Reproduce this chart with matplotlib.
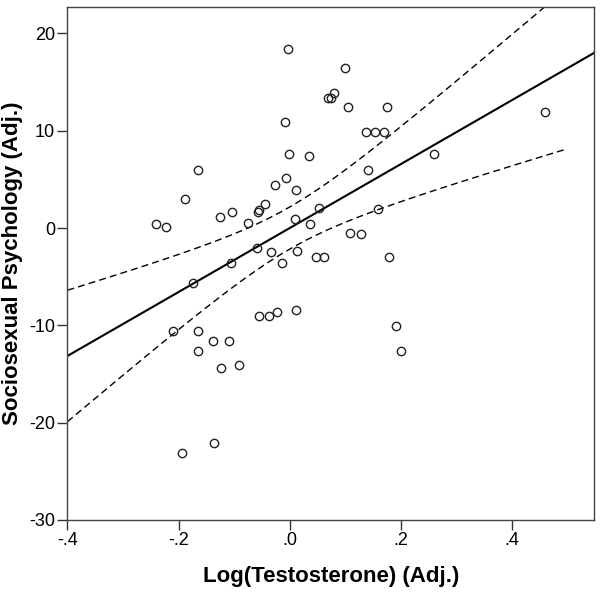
import numpy as np
import matplotlib.pyplot as plt

# values
log_t = [-0.003, 0.069, 0.075, 0.079, -0.008, -0.001, 0.034, -0.165, -0.188, -0.026,
         -0.007, 0.012, -0.125, -0.103, -0.057, -0.055, -0.045, -0.075, -0.241, -0.223,
         0.009, 0.036, 0.052, -0.059, -0.034, 0.013, 0.047, 0.062, 0.099, 0.105,
         0.176, 0.137, 0.153, 0.169, 0.460, 0.260, 0.141, 0.159, 0.108, 0.128,
         0.179, -0.174, -0.105, -0.013, -0.055, -0.038, -0.022, 0.012, -0.210, -0.165,
         -0.138, -0.110, -0.165, -0.123, -0.091, -0.193, -0.136, 0.191, 0.201]
sociosex = [18.4, 13.4, 13.4, 13.9, 10.9, 7.6, 7.4, 5.95, 2.97, 4.4,
            5.1, 3.9, 1.1, 1.6, 1.6, 1.9, 2.5, 0.47, 0.41, 0.1,
            0.92, 0.41, 2.08, -2.05, -2.5, -2.4, -2.97, -2.97, 16.4, 12.4,
            12.4, 9.9, 9.9, 9.9, 11.9, 7.6, 5.95, 1.95, -0.51, -0.62,
            -2.97, -5.6, -3.6, -3.6, -9.07, -9.07, -8.6, -8.4, -10.6, -10.6,
            -11.6, -11.6, -12.6, -14.4, -14.1, -23.1, -22.1, -10.1, -12.6]
x_ticks = [-0.4, -0.2, 0.0, 0.2, 0.4]
x_tick_labels = ['-.4', '-.2', '.0', '.2', '.4']
y_ticks = [-30, -20, -10, 0, 10, 20]

plt.rcParams['font.family'] = ['Liberation Sans', 'DejaVu Sans']
plt.rcParams['axes.unicode_minus'] = False

x = np.array(log_t)
y = np.array(sociosex)
n = len(x)

# least squares fit and 95% confidence band of the mean
slope, icpt = np.polyfit(x, y, 1)
resid = y - (slope * x + icpt)
s = np.sqrt(np.sum(resid ** 2) / (n - 2))
sxx = np.sum((x - x.mean()) ** 2)
t_crit = 2.002

xl = np.linspace(-0.4, 0.55, 100)
xc = np.linspace(-0.4, 0.5, 100)
yc = slope * xc + icpt
half = t_crit * s * np.sqrt(1.0 / n + (xc - x.mean()) ** 2 / sxx)

fig = plt.figure(figsize=(6.02, 5.97), dpi=100)
ax = fig.add_axes([0.112, 0.129, 0.875, 0.859])

ax.plot(xl, slope * xl + icpt, color='black', linewidth=1.5)
ax.plot(xc, yc + half, color='black', linewidth=1.0, linestyle=(0, (5, 3)))
ax.plot(xc, yc - half, color='black', linewidth=1.0, linestyle=(0, (5, 3)))
ax.plot(x, y, 'o', markerfacecolor='none', markeredgecolor='#222222',
        markersize=6, markeredgewidth=1.0, linestyle='none')

ax.set_xlim(-0.4, 0.548)
ax.set_ylim(-30, 22.7)
ax.set_xticks(x_ticks)
ax.set_xticklabels(x_tick_labels)
ax.set_yticks(y_ticks)
ax.tick_params(direction='out', length=7, width=1, labelsize=13, colors='#333333',
               labelcolor='black', pad=2)
for sp in ax.spines.values():
    sp.set_color('#444444')
    sp.set_linewidth(1.0)

ax.set_xlabel('Log(Testosterone) (Adj.)', fontsize=16, fontweight='bold', labelpad=12)
ax.set_ylabel('Sociosexual Psychology (Adj.)', fontsize=16, fontweight='bold', labelpad=4)

plt.savefig('out.png', dpi=100)
